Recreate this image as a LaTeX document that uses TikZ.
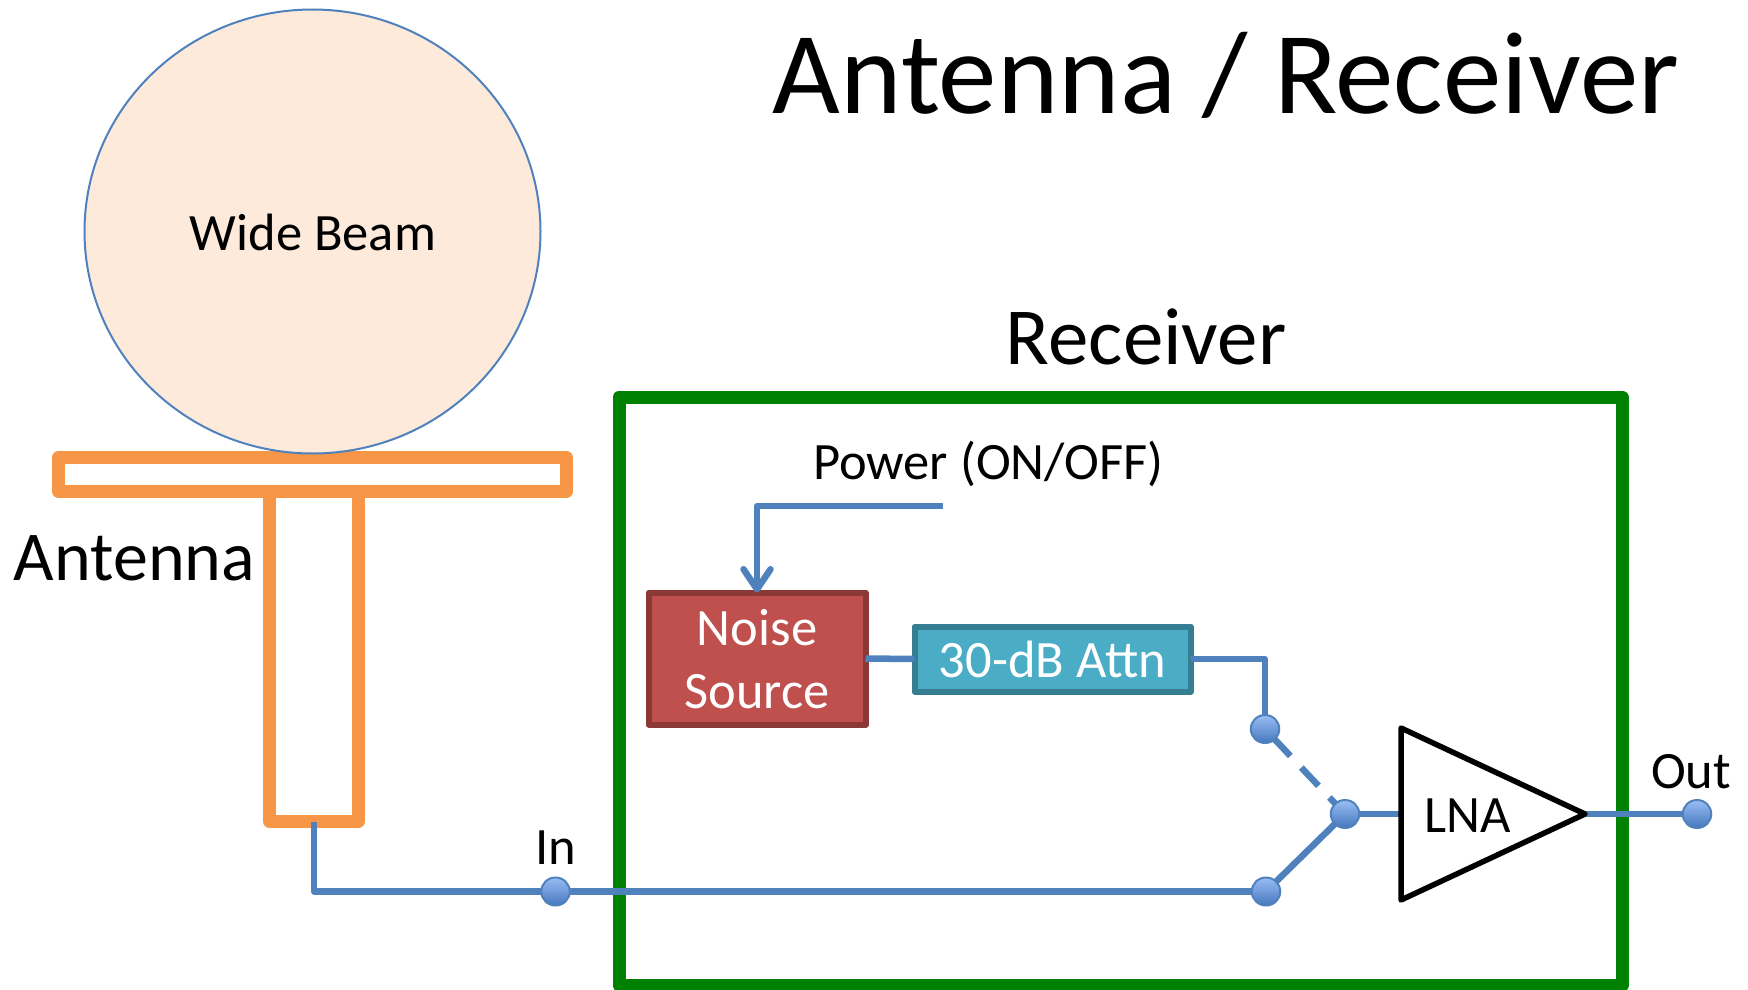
\documentclass[tikz,border=0pt]{standalone}
\usepackage{fontspec}
\setmainfont{Carlito}
\usetikzlibrary{arrows.meta,shapes.geometric,calc}
\definecolor{wire}{HTML}{4F81BD}
\definecolor{ant}{HTML}{F79646}
\definecolor{grn}{HTML}{008000}
\definecolor{redf}{HTML}{C0504D}
\definecolor{redb}{HTML}{8C3836}
\definecolor{teal2}{HTML}{4BACC6}
\definecolor{tealb}{HTML}{357D91}
\definecolor{beam}{HTML}{FDEADA}
\definecolor{dottop}{HTML}{9ABDF5}
\definecolor{dotbot}{HTML}{4577BD}
\tikzset{
  every node/.style={outer sep=0pt,inner sep=0pt},
  wireline/.style={draw=wire,line width=6.5pt,line join=round},
  antbox/.style={rectangle,draw=ant,fill=white,line width=13pt,line join=round},
  sigbox/.style={rectangle,line width=6pt,line join=round,text=white,align=center},
  dotnode/.style={ellipse,minimum width=28.5pt,minimum height=28pt,draw=wire,line width=2pt,top color=dottop,bottom color=dotbot},
  lbl/.style={anchor=base,text=black,font=\fontsize{52.5}{52.5}\selectfont},
}
\begin{document}
\begin{tikzpicture}[x=1pt,y=-1pt]
\useasboundingbox (0,0) rectangle (1748,990);
% receiver frame
\node[rectangle,draw=grn,line width=13pt,line join=round,minimum width=1003pt,minimum height=588pt] (frame) at (1120.5,691) {};
% antenna
\node[antbox,minimum width=89pt,minimum height=330pt] (stem) at (314,656.5) {};
\node[antbox,minimum width=508pt,minimum height=34pt] (bar) at (312.5,474.5) {};
\node[ellipse,draw=wire,fill=beam,line width=2pt,minimum width=456pt,minimum height=444pt] (lobe) at (312.5,231.5) {};
\node[lbl] (lobetxt) at (313,250) {Wide Beam};
% blocks
\node[sigbox,draw=redb,fill=redf,minimum width=217pt,minimum height=132pt] (noise) at (757,658.5) {};
\node[lbl,text=white] (noisea) at (757,645) {Noise};
\node[lbl,text=white] (noiseb) at (757,708) {Source};
\node[sigbox,draw=tealb,fill=teal2,minimum width=276pt,minimum height=65pt] (attn) at (1052.5,659) {};
\node[lbl,text=white] (attntxt) at (1052.5,677) {30-dB Attn};
% amplifier
\coordinate (lnaw) at (1401,814);
\coordinate (lnat) at (1401,728);
\coordinate (lnab) at (1401,900);
\coordinate (lnae) at (1585,814);
\coordinate (antout) at (314,822);
\coordinate (pwr) at (943,506);
% positions of the dots
\coordinate (pin) at (555.5,891.5);
\coordinate (pa) at (1265,729);
\coordinate (pb) at (1266,891.5);
\coordinate (pc) at (1345,814);
\coordinate (pout) at (1697,814);
% wires
\draw[wireline] (antout) |- (pin);
\draw[wireline] (pin) -- (pb);
\draw[wireline] (noise.east) -- (attn.west);
\draw[wireline] (attn.east) -| (pa);
\draw[wireline] (pb) -- (pc);
\draw[wireline,dash pattern=on 25pt off 16pt,dash phase=29pt] (pa) -- (pc);
\draw[wireline] (pc) -- (lnaw);
\draw[wireline] (lnae) -- (pout);
\draw[wireline,-{Straight Barb[length=20pt,width=27pt,round]}] (pwr) -| (noise.north);
% dots above wires
\node[dotnode] (dotin) at (pin) {};
\node[dotnode] (dota) at (pa) {};
\node[dotnode] (dotb) at (pb) {};
\node[dotnode] (dotc) at (pc) {};
\node[dotnode] (dotout) at (pout) {};
\draw[black,line width=5.5pt,line join=round] (lnat) -- (lnae) -- (lnab) -- cycle;
% labels
\node[lbl] (lnatxt) at (1468,832) {LNA};
\node[lbl] (outtxt) at (1691,788.5) {Out};
\node[lbl] (intxt) at (555.5,864.5) {In};
\node[lbl] (pwrtxt) at (988.5,479) {Power (ON/OFF)};
\node[lbl,font=\fontsize{70}{70}\selectfont] (anttxt) at (134.5,580) {Antenna};
\node[lbl,font=\fontsize{81}{81}\selectfont] (rcvtxt) at (1146,364) {Receiver};
\node[lbl,font=\fontsize{117}{117}\selectfont] (title) at (1226,113) {Antenna / Receiver};
\end{tikzpicture}
\end{document}
